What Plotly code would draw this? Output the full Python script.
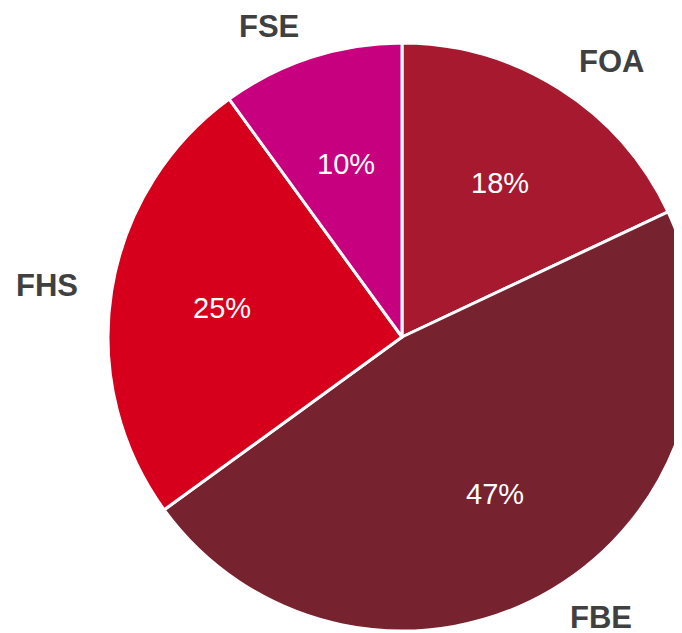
import math
import plotly.graph_objects as go

labels = ["FOA", "FBE", "FHS", "FSE"]
values = [18, 47, 25, 10]
colors = ["#A6192E", "#76222F", "#D6001C", "#C6007E"]

# figure is drawn 8px in from the page corner (default body margin)
W, H = 700, 633
CX, CY, R = 394, 329, 294  # pie centre / radius in figure px

dom_x = [(CX - R) / W, (CX + R) / W]
dom_y = [1 - (CY + R) / H, 1 - (CY - R) / H]

fig = go.Figure(go.Pie(
    labels=labels, values=values, sort=False, direction="clockwise", rotation=0,
    marker=dict(colors=colors, line=dict(color="white", width=3)),
    textinfo="none",
    domain=dict(x=dom_x, y=dom_y), showlegend=False, hoverinfo="label+percent",
))

total = sum(values)
cum = 0
anns = []
for lab, v in zip(labels, values):
    mid = (cum + v / 2) / total * 2 * math.pi
    cum += v
    s, c = math.sin(mid), math.cos(mid)
    # category label outside the pie
    d = R * 1.11
    anns.append(dict(
        x=(CX + d * s) / W, y=1 - (CY - d * c) / H, xref="paper", yref="paper",
        text=lab, showarrow=False,
        xanchor="left" if s > 0 else "right", yanchor="middle",
        font=dict(family="Liberation Sans", size=31, color="#404040", weight="bold"),
    ))
    # percentage inside the slice
    d2 = R * 0.62
    anns.append(dict(
        x=(CX + d2 * s) / W, y=1 - (CY - d2 * c) / H, xref="paper", yref="paper",
        text=f"{round(v / total * 100)}%", showarrow=False,
        xanchor="center", yanchor="middle",
        font=dict(family="Liberation Sans", size=29, color="white"),
    ))

fig.update_layout(
    width=W, height=H, margin=dict(l=0, r=0, t=0, b=0),
    paper_bgcolor="white", plot_bgcolor="white", annotations=anns,
)
fig.write_html("out.html")
